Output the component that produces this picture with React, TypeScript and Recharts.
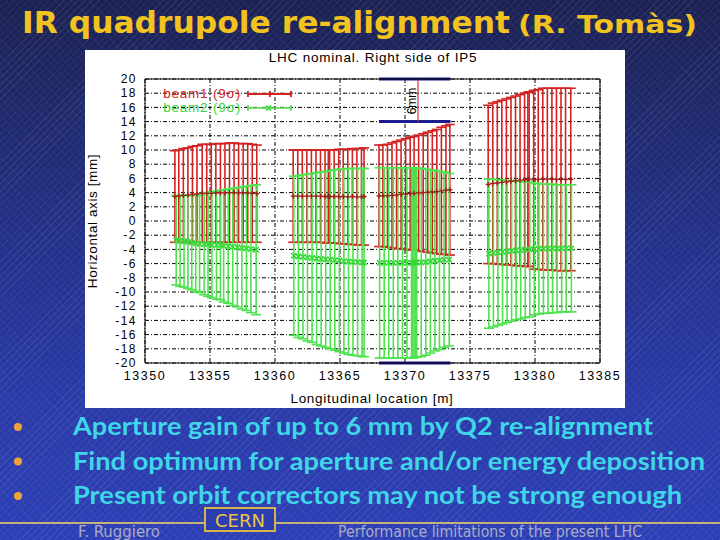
import React from "react";
import {
  ScatterChart,
  Scatter,
  XAxis,
  YAxis,
  CartesianGrid,
  ErrorBar,
  ReferenceLine,
} from "recharts";

// ─── Data: [s (m), lower edge (mm), upper edge (mm)] per slice ──────────────

const beam1Q1 = [
  [13352.3, -3.0, 9.9], [13352.6, -3.0, 10.0], [13352.95, -3.0, 10.2],
  [13353.3, -3.0, 10.3], [13353.65, -3.0, 10.5], [13354.0, -3.0, 10.6],
  [13354.4, -3.0, 10.8], [13354.75, -3.0, 10.8], [13355.1, -3.0, 10.8],
  [13355.45, -3.0, 10.9], [13355.8, -3.0, 10.9], [13356.15, -3.0, 10.9],
  [13356.5, -3.0, 11.0], [13356.85, -3.0, 11.0], [13357.2, -3.0, 10.9],
  [13357.55, -3.0, 10.9], [13357.9, -3.0, 10.9], [13358.25, -3.0, 10.8],
  [13358.6, -3.0, 10.7],
];
const beam2Q1 = [
  [13352.4, -9.0, 3.6], [13352.7, -9.2, 3.6], [13353.0, -9.3, 3.6],
  [13353.3, -9.5, 3.6], [13353.6, -9.7, 3.6], [13353.9, -9.9, 3.6],
  [13354.2, -10.1, 3.6], [13354.55, -10.4, 3.9], [13354.85, -10.6, 4.0],
  [13355.15, -10.8, 4.1], [13355.5, -11.0, 4.2], [13355.8, -11.1, 4.3],
  [13356.05, -11.4, 4.4], [13356.4, -11.6, 4.5], [13356.75, -11.9, 4.6],
  [13357.1, -12.1, 4.7], [13357.45, -12.4, 4.8], [13357.8, -12.6, 4.9],
  [13358.15, -12.9, 5.0], [13358.55, -13.2, 5.1],
];

const beam1Q2a = [
  [13361.4, -3.0, 10.0], [13361.75, -3.0, 10.0], [13362.1, -3.0, 10.0],
  [13362.45, -3.0, 10.0], [13362.8, -3.0, 10.0], [13363.15, -3.0, 10.0],
  [13363.5, -3.0, 10.0], [13363.85, -3.1, 10.0], [13364.1, -3.1, 10.0],
  [13364.2, -3.1, 10.0], [13364.55, -3.1, 10.0], [13364.9, -3.2, 10.1],
  [13365.25, -3.2, 10.1], [13365.6, -3.3, 10.1], [13365.95, -3.3, 10.2],
  [13366.3, -3.4, 10.2], [13366.65, -3.4, 10.2], [13366.85, -3.4, 10.3],
];
const beam2Q2a = [
  [13361.45, -16.1, 6.3], [13361.8, -16.4, 6.4], [13362.15, -16.6, 6.5],
  [13362.5, -16.9, 6.6], [13362.85, -17.1, 6.7], [13363.2, -17.4, 6.8],
  [13363.55, -17.6, 6.9], [13363.9, -17.8, 7.0], [13364.25, -18.0, 7.1],
  [13364.6, -18.2, 7.2], [13364.95, -18.4, 7.3], [13365.3, -18.6, 7.3],
  [13365.65, -18.8, 7.4], [13366.0, -18.9, 7.4], [13366.35, -19.0, 7.4],
  [13366.7, -19.1, 7.4], [13366.85, -19.1, 7.4],
];

const beam1Q2b = [
  [13368.0, -3.6, 10.7], [13368.3, -3.6, 10.7], [13368.65, -3.7, 10.8],
  [13369.0, -3.8, 11.0], [13369.35, -3.9, 11.2], [13369.7, -3.9, 11.4],
  [13370.05, -4.0, 11.6], [13370.4, -4.1, 11.8], [13370.7, -4.1, 11.9],
  [13371.05, -4.2, 12.1], [13371.4, -4.3, 12.3], [13371.75, -4.4, 12.5],
  [13372.1, -4.5, 12.7], [13372.45, -4.6, 12.9], [13372.8, -4.7, 13.2],
  [13373.15, -4.7, 13.4], [13373.45, -4.8, 13.6],
];
const beam2Q2b = [
  [13368.05, -19.3, 7.5], [13368.4, -19.3, 7.5], [13368.75, -19.3, 7.5],
  [13369.1, -19.3, 7.5], [13369.45, -19.3, 7.5], [13369.8, -19.3, 7.5],
  [13370.15, -19.3, 7.5], [13370.5, -19.3, 7.5], [13370.6, -19.3, 7.5],
  [13370.7, -19.2, 7.5], [13370.8, -19.2, 7.5], [13370.9, -19.2, 7.5],
  [13371.25, -19.1, 7.4], [13371.6, -18.9, 7.3], [13371.95, -18.6, 7.2],
  [13372.3, -18.3, 7.1], [13372.65, -18.1, 7.0], [13373.0, -17.8, 6.9],
  [13373.4, -17.6, 6.7],
];

const beam1Q3 = [
  [13376.4, -6.0, 16.3], [13376.75, -6.0, 16.6], [13377.1, -6.1, 16.8],
  [13377.45, -6.1, 17.0], [13377.8, -6.2, 17.2], [13378.15, -6.2, 17.4],
  [13378.5, -6.3, 17.6], [13378.85, -6.3, 17.8], [13379.2, -6.4, 18.0],
  [13379.45, -6.4, 18.1], [13379.55, -6.4, 18.2], [13379.9, -6.8, 18.4],
  [13380.25, -6.8, 18.5], [13380.6, -6.9, 18.7], [13380.95, -6.9, 18.7],
  [13381.3, -6.9, 18.7], [13381.65, -7.0, 18.7], [13382.0, -7.0, 18.7],
  [13382.35, -7.0, 18.7], [13382.75, -7.0, 18.7],
];
const beam2Q3 = [
  [13376.45, -15.1, 5.9], [13376.8, -14.9, 5.9], [13377.15, -14.7, 5.8],
  [13377.5, -14.5, 5.8], [13377.85, -14.3, 5.7], [13378.2, -14.1, 5.7],
  [13378.55, -13.9, 5.6], [13378.9, -13.8, 5.6], [13379.25, -13.6, 5.5],
  [13379.6, -13.5, 5.5], [13379.95, -13.2, 5.3], [13380.3, -13.1, 5.3],
  [13380.65, -13.0, 5.2], [13381.0, -13.0, 5.2], [13381.35, -12.9, 5.2],
  [13381.7, -12.9, 5.1], [13382.05, -12.8, 5.1], [13382.4, -12.8, 5.1],
  [13382.8, -12.8, 5.1],
];

// Q2b aperture marks (6 mm gain annotation)
const markStart = 13368.0;
const markEnd = 13373.5;
const markArrowS = 13371.0;
const markLevels = [20, 14, -20];

const xTicks = [13350, 13355, 13360, 13365, 13370, 13375, 13380, 13385];
const yTicks = [
  -20, -18, -16, -14, -12, -10, -8, -6, -4, -2, 0, 2, 4, 6, 8, 10, 12, 14, 16,
  18, 20,
];

const bullets = [
  "Aperture gain of up to 6 mm by Q2 re-alignment",
  "Find optimum for aperture and/or energy deposition",
  "Present orbit correctors may not be strong enough",
];
const bulletWidths = [580, 632, 609];

// ─── Helpers ─────────────────────────────────────────────────────────────────

const RED = "#d42222";
const GREEN = "#4fe24f";
const PLOT_FONT = "'Liberation Sans', Arial, sans-serif";

type Row = number[];

function toPoints(...groups: Row[][]) {
  return groups.flat().map(([s, lo, hi]) => {
    const c = (lo + hi) / 2;
    return { s, c, err: [c - lo, hi - c] };
  });
}

const beam1 = toPoints(beam1Q1, beam1Q2a, beam1Q2b, beam1Q3);
const beam2 = toPoints(beam2Q1, beam2Q2a, beam2Q2b, beam2Q3);

function PlusMark({ cx, cy }: any) {
  return (
    <path
      d={`M${cx - 2.5},${cy}h5M${cx},${cy - 2.5}v5`}
      stroke="#a01c14"
      strokeWidth={1.3}
      fill="none"
    />
  );
}

function CrossMark({ cx, cy }: any) {
  const r = 2.6;
  return (
    <path
      d={`M${cx - r},${cy - r}l${2 * r},${2 * r}M${cx - r},${cy + r}l${2 * r},${-2 * r}`}
      stroke="#3ad83a"
      strokeWidth={1.6}
      fill="none"
    />
  );
}

const centered = (x: number, y: number, extra: React.CSSProperties = {}) =>
  ({
    position: "absolute",
    left: x,
    top: y,
    transform: "translate(-50%, -50%)",
    whiteSpace: "nowrap",
    lineHeight: 1,
    fontFamily: PLOT_FONT,
    ...extra,
  }) as React.CSSProperties;

// ─── Chart ───────────────────────────────────────────────────────────────────

function ApertureChart() {
  const tickFont = {
    fontSize: 12,
    fill: "#000",
    fontFamily: PLOT_FONT,
    letterSpacing: 1.5,
  };
  return (
    <div
      style={{
        position: "absolute",
        left: 85,
        top: 50,
        width: 540,
        height: 358,
        background: "#fff",
      }}
    >
      <ScatterChart
        width={540}
        height={358}
        margin={{ top: 29, right: 25, bottom: 15, left: 0 }}
      >
        <CartesianGrid
          stroke="#000"
          strokeWidth={1}
          strokeDasharray="4 2 1 2"
        />
        <XAxis
          dataKey="s"
          type="number"
          domain={[13350, 13385]}
          ticks={xTicks}
          allowDataOverflow
          height={30}
          tick={{ ...tickFont, fontSize: 12.5 }}
          tickLine={false}
          axisLine={{ stroke: "#000" }}
        />
        <XAxis
          xAxisId="top"
          orientation="top"
          type="number"
          domain={[13350, 13385]}
          ticks={xTicks}
          mirror
          tick={false}
          tickSize={4}
          tickLine={{ stroke: "#000" }}
          axisLine={{ stroke: "#000" }}
        />
        <YAxis
          dataKey="c"
          type="number"
          domain={[-20, 20]}
          ticks={yTicks}
          interval={0}
          allowDataOverflow
          width={60}
          tick={tickFont}
          tickLine={false}
          axisLine={{ stroke: "#000" }}
        />
        <YAxis
          yAxisId="right"
          orientation="right"
          type="number"
          domain={[-20, 20]}
          ticks={yTicks}
          interval={0}
          mirror
          tick={false}
          tickSize={4}
          tickLine={{ stroke: "#000" }}
          axisLine={{ stroke: "#000" }}
        />
        <Scatter
          name="beam1 (9σ)"
          data={beam1}
          shape={PlusMark}
          isAnimationActive={false}
        >
          <ErrorBar
            dataKey="err"
            direction="y"
            width={5}
            stroke={RED}
            strokeWidth={1.6}
            isAnimationActive={false}
          />
        </Scatter>
        <Scatter
          name="beam2 (9σ)"
          data={beam2}
          shape={CrossMark}
          isAnimationActive={false}
        >
          <ErrorBar
            dataKey="err"
            direction="y"
            width={5}
            stroke={GREEN}
            strokeWidth={1.6}
            isAnimationActive={false}
          />
        </Scatter>
        {markLevels.map((lv) => (
          <ReferenceLine
            key={lv}
            segment={[
              { x: markStart, y: lv },
              { x: markEnd, y: lv },
            ]}
            stroke="#1c1c8e"
            strokeWidth={3}
            ifOverflow="visible"
          />
        ))}
        <ReferenceLine
          segment={[
            { x: markArrowS, y: markLevels[1] },
            { x: markArrowS, y: markLevels[0] },
          ]}
          stroke="#d03a3a"
          strokeWidth={1.2}
          ifOverflow="visible"
        />
      </ScatterChart>

      {/* Titles */}
      <div style={centered(288, 8, { fontSize: 13.5, letterSpacing: 0.8 })}>
        LHC nominal. Right side of IP5
      </div>
      <div style={centered(287, 349, { fontSize: 13.5, letterSpacing: 0.7 })}>
        Longitudinal location [m]
      </div>
      <div
        style={centered(8, 171, {
          fontSize: 13.5,
          letterSpacing: 0.6,
          transform: "translate(-50%, -50%) rotate(-90deg)",
        })}
      >
        Horizontal axis [mm]
      </div>
      <div
        style={centered(327, 51, {
          fontSize: 12,
          transform: "translate(-50%, -50%) rotate(-90deg)",
        })}
      >
        6mm
      </div>

      {/* Legend */}
      <div
        style={{
          position: "absolute",
          right: 540 - 156,
          top: 37,
          fontFamily: PLOT_FONT,
          fontSize: 13.5,
          letterSpacing: 0.8,
          lineHeight: "14px",
          textAlign: "right",
        }}
      >
        <div style={{ color: RED }}>beam1 (9σ)</div>
        <div style={{ color: "#3cd43c" }}>beam2 (9σ)</div>
      </div>
      <svg
        width={60}
        height={30}
        style={{ position: "absolute", left: 160, top: 36 }}
      >
        <path
          d="M3,8h43M3,5v6M46,5v6M25,5v6"
          stroke={RED}
          strokeWidth={1.8}
          fill="none"
        />
        <path
          d="M3,22h43M3,19v6M46,19v6"
          stroke={GREEN}
          strokeWidth={1.6}
          fill="none"
        />
        <path d="M21,19.5l5,5M21,24.5l5,-5" stroke="#3ad83a" strokeWidth={1.6} />
      </svg>
    </div>
  );
}

// ─── Slide ───────────────────────────────────────────────────────────────────

export default function App() {
  return (
    <div
      style={{
        position: "absolute",
        left: 0,
        top: 0,
        width: 720,
        height: 540,
        overflow: "hidden",
        backgroundColor: "#24308a",
        backgroundImage: [
          "repeating-linear-gradient(135deg, rgba(255,255,255,0.07) 0 1px, transparent 1px 5px)",
          "repeating-linear-gradient(45deg, rgba(255,255,255,0.035) 0 1px, transparent 1px 6px)",
          "linear-gradient(180deg, #1b2152 0%, #1f2868 18%, #24318a 45%, #2a3aa8 75%, #2d3fb6 100%)",
        ].join(", "),
      }}
    >
      <svg
        width={720}
        height={540}
        style={{ position: "absolute", left: 0, top: 0 }}
      >
        <text
          x={22}
          y={33}
          fontFamily="'DejaVu Sans', Verdana, sans-serif"
          fontSize={30}
          fontWeight="bold"
          fill="#f2c21e"
          textLength={488}
          lengthAdjust="spacingAndGlyphs"
        >
          IR quadrupole re-alignment
        </text>
        <text
          x={518}
          y={33}
          fontFamily="'DejaVu Sans', Verdana, sans-serif"
          fontSize={24}
          fontWeight="bold"
          fill="#f2c21e"
          textLength={179}
          lengthAdjust="spacingAndGlyphs"
        >
          (R. Tomàs)
        </text>

        {bullets.map((b, i) => (
          <g key={b}>
            <circle cx={18} cy={427 + i * 34.5} r={4} fill="#f0a23a" />
            <text
              x={73}
              y={435 + i * 34.5}
              fontFamily="Lato, 'Open Sans', sans-serif"
              fontSize={25}
              fontWeight="bold"
              fill="#3fd6e8"
              textLength={bulletWidths[i]}
              lengthAdjust="spacingAndGlyphs"
            >
              {b}
            </text>
          </g>
        ))}

        {/* Footer */}
        <line x1={0} y1={523} x2={720} y2={523} stroke="#c9b27a" strokeWidth={2} />
        <rect
          x={205}
          y={508}
          width={70}
          height={23}
          fill="#2c3db2"
          stroke="#d8b24a"
          strokeWidth={2}
        />
        <text
          x={240}
          y={527}
          fontFamily="'DejaVu Sans', Verdana, sans-serif"
          fontSize={17}
          fill="#eec344"
          textAnchor="middle"
          textLength={50}
          lengthAdjust="spacingAndGlyphs"
        >
          CERN
        </text>
        <text
          x={78}
          y={537}
          fontFamily="'DejaVu Sans', Verdana, sans-serif"
          fontSize={15}
          fill="#a9acc6"
          textLength={82}
          lengthAdjust="spacingAndGlyphs"
        >
          F. Ruggiero
        </text>
        <text
          x={338}
          y={537}
          fontFamily="'DejaVu Sans', Verdana, sans-serif"
          fontSize={15}
          fill="#a9acc6"
          textLength={304}
          lengthAdjust="spacingAndGlyphs"
        >
          Performance limitations of the present LHC
        </text>
      </svg>

      <ApertureChart />
    </div>
  );
}
